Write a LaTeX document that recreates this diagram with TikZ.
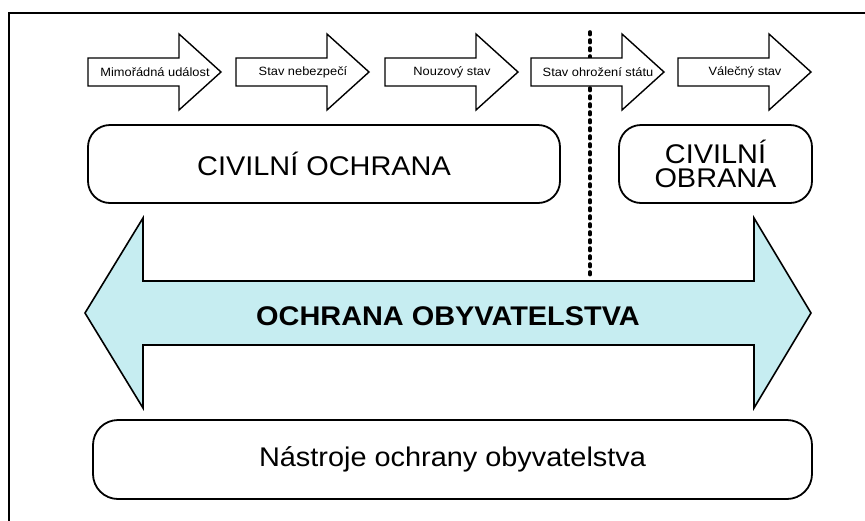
\documentclass[tikz,border=0pt]{standalone}
\usepackage{fontspec}
\setmainfont{Liberation Sans}[FakeStretch=1.07]
\definecolor{arrowcyan}{HTML}{C6EDF1}
\tikzset{
  smallarrow/.style={draw=black, line width=1.4pt, fill=white, line join=miter},
  smalltext/.style={font=\fontsize{12}{14}\selectfont, inner sep=0pt},
  bigbox/.style={draw=black, line width=1.8pt, rounded corners=22pt, fill=white,
    font=\fontsize{27}{24.5}\selectfont, align=center, inner sep=0pt},
  bigarrow/.style={draw=black, line width=1.6pt, fill=arrowcyan, line join=miter},
  frameline/.style={draw=black, line width=1.5pt},
  sepline/.style={draw=black, line width=3.6pt, line cap=round, dash pattern=on 2.6pt off 5.4pt}
}
\newcommand{\statearrow}[3]{% left x, name, text
  \draw[smallarrow] (#1,58) -- (#1+91,58) -- (#1+91,34) -- (#1+133,72) -- (#1+91,110) -- (#1+91,86) -- (#1,86) -- cycle;
  \node[smalltext] (#2) at (#1+67,72) {#3};
}
\begin{document}
\begin{tikzpicture}[x=1pt,y=-1pt]
\useasboundingbox (0,0) rectangle (865,520);
\fill[white] (0,0) rectangle (865,520);
% frame (cropped on right and bottom)
\draw[frameline] (9,522) -- (9,13) -- (867,13);
% separator
\coordinate (dtop) at (590,32);
\coordinate (dbot) at (590,279);
\draw[sepline] (dtop) -- (dbot);
% state arrows
\statearrow{88}{s1}{Mimořádná událost}
\statearrow{236}{s2}{Stav nebezpečí}
\statearrow{385}{s3}{Nouzový stav}
\statearrow{531}{s4}{Stav ohrožení státu}
\statearrow{678}{s5}{Válečný stav}
% boxes
\node[bigbox, minimum width=472pt, minimum height=78pt] (co) at (324,164) {CIVILNÍ OCHRANA};
\node[bigbox, minimum width=193pt, minimum height=78pt] (cob) at (715.5,164) {CIVILNÍ\\OBRANA};
% big double arrow
\draw[bigarrow] (85,313) -- (143,218) -- (143,281) -- (754,281) -- (754,218) -- (811,313)
  -- (754,408) -- (754,345) -- (143,345) -- (143,408) -- cycle;
\node[font=\fontsize{27}{30}\selectfont\bfseries, inner sep=0pt] (oo) at (448,316) {OCHRANA OBYVATELSTVA};
% bottom box
\node[bigbox, rounded corners=25pt, minimum width=719pt, minimum height=79pt] (nas) at (452.5,459.5) {Nástroje ochrany obyvatelstva};
\end{tikzpicture}
\end{document}
